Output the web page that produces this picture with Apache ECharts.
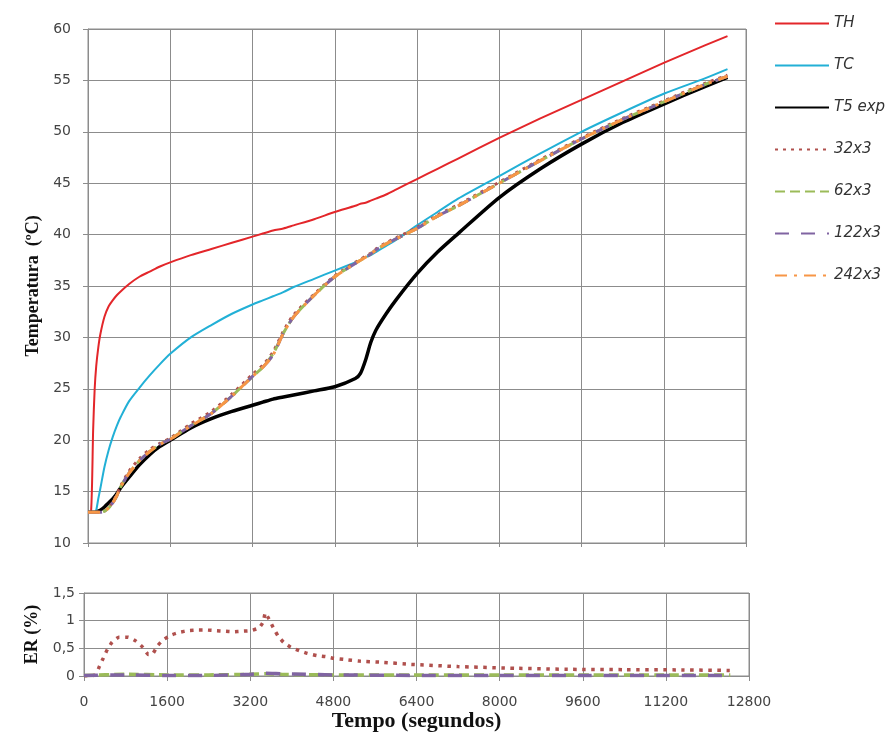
<!DOCTYPE html>
<html>
<head>
<meta charset="utf-8">
<script src="https://cdn.jsdelivr.net/npm/echarts@6/dist/echarts.min.js"></script>
<style>
html,body{margin:0;padding:0;background:#fff;}
#chart{width:892px;height:743px;}
</style>
</head>
<body>
<div id="chart"></div>
<script>
// ---- Top chart data (time in seconds, temperature in °C) ----
const tempo = [0, 60, 100, 130, 160, 200, 240, 320, 400, 480, 560, 640, 800, 1000, 1200, 1400, 1600, 2000, 2400, 2800, 3200, 3400, 3600, 3800, 4000, 4400, 4800, 5200, 5300, 5400, 5500, 5600, 5800, 6000, 6400, 6800, 7200, 8000, 8800, 9600, 10400, 11200, 12000, 12440];
const TH    = [13, 13.1, 21.0, 25.0, 27.2, 29.0, 30.3, 32.0, 33.0, 33.6, 34.1, 34.5, 35.2, 35.9, 36.4, 36.9, 37.3, 38.0, 38.6, 39.2, 39.8, 40.1, 40.4, 40.6, 40.9, 41.5, 42.2, 42.8, 43.0, 43.1, 43.3, 43.5, 43.9, 44.4, 45.4, 46.4, 47.4, 49.4, 51.3, 53.1, 54.9, 56.7, 58.4, 59.3];
const TC    = [13, 13, 13, 13, 13.2, 14.3, 15.3, 17.4, 19.0, 20.3, 21.4, 22.3, 23.8, 25.1, 26.3, 27.4, 28.4, 30.0, 31.2, 32.3, 33.2, 33.6, 34.0, 34.4, 34.9, 35.7, 36.5, 37.3, 37.5, 37.8, 38.0, 38.3, 38.9, 39.5, 40.9, 42.2, 43.5, 45.7, 47.9, 50.0, 51.9, 53.7, 55.2, 56.1];
const T5exp = [13, 13, 13, 13, 13, 13.1, 13.2, 13.5, 13.9, 14.3, 14.8, 15.4, 16.4, 17.6, 18.6, 19.4, 20.0, 21.2, 22.1, 22.8, 23.4, 23.7, 24.0, 24.2, 24.4, 24.8, 25.2, 26.0, 26.5, 27.8, 29.5, 30.7, 32.3, 33.7, 36.2, 38.3, 40.1, 43.6, 46.4, 48.8, 50.9, 52.7, 54.4, 55.3];
const m32x3  = [13, 13, 13, 13, 13, 13, 13, 13.1, 13.45, 14.0, 14.7, 15.6, 17.0, 18.2, 19.1, 19.7, 20.2, 21.6, 22.8, 24.5, 26.4, 27.3, 28.6, 30.6, 32.2, 34.2, 36.0, 37.3, 37.6, 37.9, 38.2, 38.6, 39.2, 39.7, 40.7, 41.9, 42.9, 45.1, 47.3, 49.4, 51.3, 53.0, 54.7, 55.5];
const m62x3  = [13, 13, 13, 13, 13, 13, 13, 13.1, 13.4, 13.9, 14.6, 15.5, 16.8, 18.0, 18.9, 19.6, 20.1, 21.4, 22.6, 24.3, 26.2, 27.1, 28.4, 30.4, 32.0, 34.1, 35.9, 37.2, 37.5, 37.8, 38.1, 38.5, 39.1, 39.6, 40.6, 41.8, 42.8, 45.0, 47.2, 49.3, 51.2, 52.9, 54.6, 55.4];
const m122x3 = [13, 13, 13, 13, 13, 13, 13, 13.1, 13.4, 13.9, 14.6, 15.5, 16.8, 18.0, 18.9, 19.6, 20.1, 21.4, 22.6, 24.3, 26.2, 27.1, 28.3, 30.4, 32.0, 34.1, 35.9, 37.2, 37.5, 37.8, 38.1, 38.5, 39.1, 39.6, 40.6, 41.8, 42.8, 45.0, 47.2, 49.3, 51.2, 52.9, 54.6, 55.4];
const m242x3 = [13, 13, 13, 13, 13, 13, 13, 13.1, 13.4, 13.9, 14.6, 15.5, 16.8, 18.0, 18.9, 19.6, 20.1, 21.4, 22.6, 24.3, 26.2, 27.1, 28.3, 30.4, 32.0, 34.1, 35.9, 37.2, 37.5, 37.8, 38.1, 38.5, 39.1, 39.6, 40.6, 41.8, 42.8, 45.0, 47.2, 49.3, 51.2, 52.9, 54.6, 55.4];

// ---- Bottom chart data (relative error, %) ----
const erTempo32 = [0, 220, 300, 370, 450, 540, 670, 850, 1000, 1120, 1240, 1310, 1410, 1520, 1680, 1840, 2010, 2190, 2360, 2530, 2700, 2870, 3050, 3210, 3370, 3450, 3490, 3560, 3640, 3730, 3840, 3980, 4140, 4300, 4480, 4650, 4810, 5000, 5300, 5700, 6300, 7200, 8300, 9400, 10400, 11500, 12440];
const er32x3    = [0, 0.02, 0.18, 0.32, 0.48, 0.61, 0.70, 0.70, 0.63, 0.53, 0.39, 0.39, 0.54, 0.65, 0.74, 0.79, 0.82, 0.83, 0.83, 0.82, 0.81, 0.80, 0.81, 0.82, 0.87, 0.98, 1.14, 1.03, 0.88, 0.73, 0.61, 0.52, 0.46, 0.41, 0.37, 0.35, 0.32, 0.30, 0.27, 0.25, 0.21, 0.17, 0.14, 0.12, 0.115, 0.11, 0.10];
const erTempo   = [0, 800, 1600, 2400, 3200, 3500, 3800, 4800, 6400, 8000, 9600, 11200, 12440];
const er62x3    = [0.01, 0.03, 0.02, 0.02, 0.03, 0.04, 0.03, 0.02, 0.02, 0.02, 0.02, 0.02, 0.02];
const er122x3   = [0.01, 0.02, 0.01, 0.01, 0.03, 0.05, 0.04, 0.02, 0.01, 0.01, 0.01, 0.01, 0.01];

const legendNames = ['TH', 'TC', 'T5 exp', '32x3', '62x3', '122x3', '242x3'];

const pairs = (xs, ys) => xs.map((x, i) => [x, ys[i]]);

const gridColor = '#8c8c8c';
const labelStyle = {color: '#444', fontSize: 14, fontFamily: 'DejaVu Sans, Verdana, sans-serif'};
const serifBold = {fontFamily: 'Liberation Serif, Times New Roman, serif', fontWeight: 'bold', color: '#111'};

function line(name, data, color, width, type, xi, smooth, z) {
  return {
    name: name, type: 'line', xAxisIndex: xi, yAxisIndex: xi,
    data: data, showSymbol: false, symbol: 'none',
    smooth: smooth, z: z,
    lineStyle: {color: color, width: width, type: type},
    itemStyle: {color: color},
    emphasis: {disabled: true}
  };
}

const chart = echarts.init(document.getElementById('chart'), null, {renderer: 'canvas'});
const option = {
  animation: false,
  backgroundColor: '#fff',
  legend: {
    orient: 'vertical', left: 769, top: 11,
    itemWidth: 54, itemHeight: 14, itemGap: 27,
    data: legendNames,
    itemStyle: {opacity: 0},
    textStyle: {fontStyle: 'italic', fontSize: 15, color: '#333', fontFamily: 'DejaVu Sans, Verdana, sans-serif'}
  },
  grid: [
    {left: 88, top: 29, width: 658, height: 514, show: true, borderColor: gridColor, borderWidth: 1},
    {left: 84, top: 593, width: 665, height: 83, show: true, borderColor: gridColor, borderWidth: 1}
  ],
  xAxis: [
    {type: 'value', gridIndex: 0, min: 0, max: 12800, interval: 1600,
     axisLabel: {show: false}, axisTick: {show: true, length: 4, lineStyle: {color: gridColor}},
     axisLine: {lineStyle: {color: gridColor}},
     splitLine: {show: true, lineStyle: {color: gridColor, width: 1}}},
    {type: 'value', gridIndex: 1, min: 0, max: 12800, interval: 1600,
     axisLabel: Object.assign({margin: 19, formatter: v => String(v)}, labelStyle),
     axisTick: {show: true, length: 5, lineStyle: {color: gridColor}},
     axisLine: {lineStyle: {color: gridColor}},
     splitLine: {show: true, lineStyle: {color: gridColor, width: 1}},
     name: 'Tempo (segundos)', nameLocation: 'middle', nameGap: 32,
     nameTextStyle: Object.assign({fontSize: 22}, serifBold)}
  ],
  yAxis: [
    {type: 'value', gridIndex: 0, min: 10, max: 60, interval: 5,
     axisLabel: Object.assign({margin: 17, formatter: v => String(v)}, labelStyle),
     axisTick: {show: true, length: 5, lineStyle: {color: gridColor}},
     axisLine: {show: true, lineStyle: {color: gridColor}},
     splitLine: {show: true, lineStyle: {color: gridColor, width: 1}},
     name: 'Temperatura  (ºC)', nameLocation: 'middle', nameGap: 45, nameRotate: 90,
     nameTextStyle: Object.assign({fontSize: 18}, serifBold)},
    {type: 'value', gridIndex: 1, min: 0, max: 1.5, interval: 0.5,
     axisLabel: Object.assign({margin: 9, formatter: v => String(v).replace('.', ',')}, labelStyle),
     axisTick: {show: true, length: 5, lineStyle: {color: gridColor}},
     axisLine: {show: true, lineStyle: {color: gridColor}},
     splitLine: {show: true, lineStyle: {color: gridColor, width: 1}},
     name: 'ER (%)', nameLocation: 'middle', nameGap: 42, nameRotate: 90,
     nameTextStyle: Object.assign({fontSize: 18}, serifBold)}
  ],
  series: [
    line('TH', pairs(tempo, TH), '#e3262a', 2, 'solid', 0, 0.25, 5),
    line('TC', pairs(tempo, TC), '#22b0d6', 2, 'solid', 0, 0.25, 5),
    line('T5 exp', pairs(tempo, T5exp), '#000000', 3.5, 'solid', 0, 0.25, 6),
    line('32x3', pairs(tempo, m32x3), '#b0504d', 3, [3, 5], 0, 0.25, 7),
    line('62x3', pairs(tempo, m62x3), '#9bbb59', 3, [10, 5], 0, 0.25, 8),
    line('122x3', pairs(tempo, m122x3), '#8064a2', 3, [14, 12], 0, 0.25, 9),
    line('242x3', pairs(tempo, m242x3), '#f79646', 3, [12, 7, 3, 7], 0, 0.25, 10),
    line('32x3', pairs(erTempo32, er32x3), '#b0504d', 3.5, [3.5, 5.5], 1, 0.15, 7),
    line('62x3', pairs(erTempo, er62x3), '#9bbb59', 3.5, [10, 5], 1, 0.15, 8),
    line('122x3', pairs(erTempo, er122x3), '#8064a2', 3.5, [14, 12], 1, 0.15, 9)
  ]
};
chart.setOption(option);
</script>
</body>
</html>
